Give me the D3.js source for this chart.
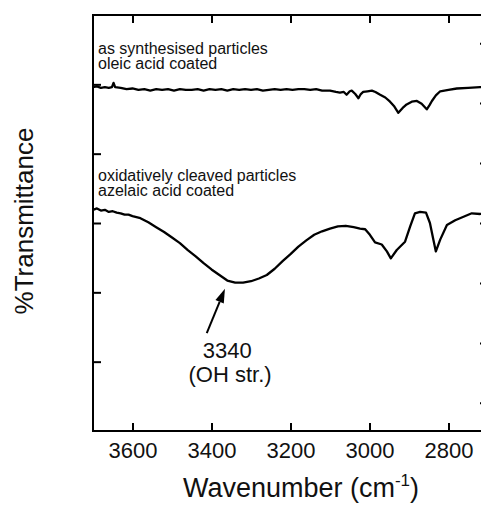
<!DOCTYPE html>
<meta charset="utf-8">
<head>
<style>
body { margin: 0; background: #fff; }
svg text { font-family: "Liberation Sans", Arial, Helvetica, sans-serif; fill: #111; }
.frame { fill: none; stroke: #000; stroke-width: 2; }
.axis line { stroke: #000; stroke-width: 2; }
.axis path { display: none; }
.spectrum { fill: none; stroke: #000; stroke-width: 2.3; stroke-linejoin: round; }
</style>
</head>
<body>
<svg width="481" height="505"></svg>
<script src="https://cdn.jsdelivr.net/npm/d3@7"></script>
<script>

// wavenumber (cm-1) and %T (arbitrary offset) for each spectrum
var oleicWn = [3700,3690,3680,3670,3660,3652,3648,3644,3630,3615,3600,3585,3570,3555,3540,3525,3510,3495,3480,3465,3450,3435,3420,3405,3390,3375,3360,3345,3330,3315,3300,3285,3270,3255,3240,3225,3210,3195,3180,3165,3150,3135,3120,3100,3085,3075,3065,3058,3050,3045,3036,3028,3022,3016,3005,2994,2985,2973,2960,2948,2937,2927,2916,2906,2893,2880,2868,2855,2848,2842,2832,2821,2800,2779,2750,2720,2700];
var oleicT  = [49.6,49.7,49.5,49.6,49.5,49.6,50.2,49.6,49.5,49.3,49.4,49.2,49.3,49.1,49.3,49.2,49.3,49.1,49.3,49.2,49.2,49.3,49.1,49.3,49.2,49.3,49.1,49.3,49.2,49.3,49.2,49.3,49.1,49.2,49.3,49.2,49.3,49.2,49.3,49.3,49.2,49.3,49.1,49.1,48.9,48.8,48.9,48.5,49.0,49.1,48.6,48.0,48.6,48.9,49.0,49.1,48.9,48.5,48.1,47.5,46.8,45.9,46.6,47.1,47.5,47.6,47.2,46.4,47.0,47.6,48.4,49.0,49.2,49.4,49.5,49.6,49.6];

var azelaicWn = [3700,3690,3680,3670,3660,3650,3640,3630,3620,3610,3600,3580,3560,3540,3520,3500,3480,3460,3440,3420,3400,3380,3360,3340,3320,3300,3280,3260,3240,3220,3200,3180,3160,3140,3120,3100,3080,3060,3040,3024,3011,2999,2986,2969,2956,2946,2931,2910,2897,2885,2872,2857,2847,2838,2832,2821,2804,2783,2762,2741,2720,2700];
var azelaicT  = [31.9,32.1,31.8,31.9,31.6,31.7,31.5,31.4,31.2,31.2,31.0,30.7,30.1,29.4,28.7,27.9,27.1,26.1,25.2,24.2,23.3,22.5,21.7,21.4,21.4,21.6,22.0,22.5,23.4,24.5,25.5,26.6,27.5,28.3,28.8,29.2,29.5,29.6,29.4,29.2,29.1,28.3,27.2,26.9,25.9,24.9,26.1,27.3,29.5,31.4,31.6,31.5,30.0,27.5,25.9,27.6,29.7,30.4,30.9,31.4,31.3,31.5];

var xTicks = [3600,3400,3200,3000,2800];
var leftTicks = [10,20,30,40,50];
var rightTicks = [0,1,2,3,4,5,6];

var oleicLabel = ["as synthesised particles", "oleic acid coated"];
var azelaicLabel = ["oxidatively cleaved particles", "azelaic acid coated"];
var peakLabel = ["3340", "(OH str.)"];

var svg = d3.select("svg"),
    pLeft = 93, pRight = 488, pTop = 15, pBottom = 431;

var x = d3.scaleLinear().domain([3700, 2700]).range([pLeft, pRight]);
var y = d3.scaleLinear().domain([0, 60]).range([pBottom, pTop]);
var yR = d3.scaleLinear().domain([-0.47, 6.47]).range([pBottom, pTop]);

function zip(a, b) { return a.map(function(d, i) { return [d, b[i]]; }); }

var line = d3.line()
    .x(function(d) { return x(d[0]); })
    .y(function(d) { return y(d[1]); });

svg.append("path").attr("class", "spectrum").attr("d", line(zip(oleicWn, oleicT)));
svg.append("path").attr("class", "spectrum").attr("d", line(zip(azelaicWn, azelaicT)));

// axes, ticks pointing inward
svg.append("g").attr("class", "axis")
    .attr("transform", "translate(0," + pBottom + ")")
    .call(d3.axisBottom(x).tickValues(xTicks).tickSize(-8).tickPadding(11).tickFormat(d3.format("d")))
    .selectAll("text").style("font-size", "22px");

svg.append("g").attr("class", "axis")
    .attr("transform", "translate(0," + pTop + ")")
    .call(d3.axisTop(x).tickValues(xTicks).tickSize(-8).tickFormat(""));

svg.append("g").attr("class", "axis")
    .attr("transform", "translate(" + pLeft + ",0)")
    .call(d3.axisLeft(y).tickValues(leftTicks).tickSize(-8).tickFormat(""));

svg.append("g").attr("class", "axis")
    .attr("transform", "translate(" + pRight + ",0)")
    .call(d3.axisRight(yR).tickValues(rightTicks).tickSize(-8).tickFormat(""));

svg.append("rect").attr("class", "frame")
    .attr("x", pLeft).attr("y", pTop)
    .attr("width", pRight - pLeft).attr("height", pBottom - pTop);

// curve labels
function label(lines, y0) {
  svg.selectAll(null).data(lines).enter().append("text")
    .attr("x", pLeft + 5)
    .attr("y", function(d, i) { return y0 + i * 15; })
    .style("font-size", "16px")
    .text(function(d) { return d; });
}
label(oleicLabel, 54);
label(azelaicLabel, 181);

// peak annotation
var tip = [x(3366), y(20.5)], tail = [x(3412), y(14.1)];
var ang = Math.atan2(tip[1] - tail[1], tip[0] - tail[0]);
var hl = 14, hw = 4.5;
var bx = tip[0] - hl * Math.cos(ang), by = tip[1] - hl * Math.sin(ang);
svg.append("line")
    .attr("x1", tail[0]).attr("y1", tail[1]).attr("x2", bx).attr("y2", by)
    .attr("stroke", "#000").attr("stroke-width", 2);
svg.append("path")
    .attr("d", "M" + tip + "L" + [bx + hw * Math.sin(ang), by - hw * Math.cos(ang)] +
               "L" + [bx - hw * Math.sin(ang), by + hw * Math.cos(ang)] + "Z")
    .attr("fill", "#000");

svg.append("text").attr("x", x(3360)).attr("y", 358)
    .attr("text-anchor", "middle").style("font-size", "22px").text(peakLabel[0]);
svg.append("text").attr("x", x(3353)).attr("y", 382)
    .attr("text-anchor", "middle").style("font-size", "22px").text(peakLabel[1]);

// axis titles
var xt = svg.append("text").attr("x", 301).attr("y", 497)
    .attr("text-anchor", "middle").style("font-size", "27px");
xt.append("tspan").text("Wavenumber (cm");
xt.append("tspan").attr("dy", -11).style("font-size", "17px").text("-1");
xt.append("tspan").attr("dy", 11).text(")");

svg.append("text")
    .attr("transform", "translate(33,221) rotate(-90)")
    .attr("text-anchor", "middle").style("font-size", "26px")
    .text("%Transmittance");

</script>
</body>
